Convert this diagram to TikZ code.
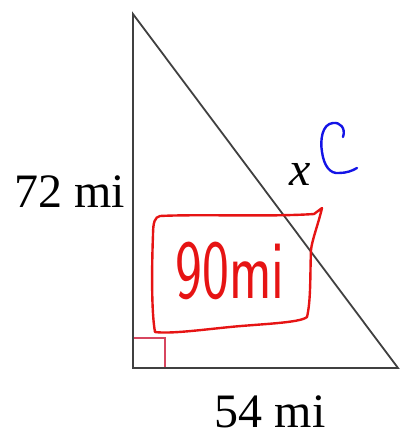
\documentclass[tikz,border=0pt]{standalone}
\usepackage{fontspec}
\setmainfont{Liberation Serif}
\newfontfamily\handfont{Latin Modern Sans}
\usetikzlibrary{calc}
\definecolor{inkred}{RGB}{230,20,20}
\definecolor{inkblue}{RGB}{20,20,230}
\definecolor{markred}{RGB}{215,70,95}
\tikzset{
	side/.style={line width=1.8pt, color=black!75},
	lbl/.style={font=\fontsize{48}{48}\selectfont, inner sep=0pt},
	pen/.style={line width=2.4pt, line cap=round, line join=round}
}

\begin{document}
\begin{tikzpicture}[x=1pt, y=-1pt]
			%%%%% START %%%%%
			\useasboundingbox (0, 0) rectangle (401, 437);
			
			\coordinate (top) at (133, 14);
			\coordinate (corner) at (133, 368);
			\coordinate (right) at (398, 368);
			
			\draw[line width=1.3pt, color=markred] (133, 338) -- (165, 338) -- (165, 368);
			\draw[side] (top) -- (corner) -- (right) -- cycle;
			
			\node[lbl, anchor=base east] (legA) at (125, 207) {72 mi};
			\node[lbl, anchor=base] (legB) at (270, 427) {54 mi};
			\node[lbl, anchor=base] (hyp) at (300, 185) {\textit{x}};
			
			% blue C
			\draw[pen, color=inkblue] (343, 137) .. controls (346, 128) and (340, 122) .. (333, 123)
				.. controls (322, 124) and (320, 140) .. (322, 152)
				.. controls (324, 166) and (330, 174) .. (339, 173)
				.. controls (346, 173) and (352, 171) .. (357, 168);
			
			% red box
			\draw[pen, color=inkred] (160, 216) .. controls (200, 214) and (270, 217) .. (314, 214)
				-- (322, 208)
				.. controls (318, 225) and (312, 240) .. (311, 250)
				.. controls (310, 275) and (311, 300) .. (307, 317)
				.. controls (300, 323) and (260, 324) .. (230, 327)
				.. controls (200, 330) and (170, 334) .. (155, 332)
				.. controls (151, 310) and (152, 260) .. (153, 235)
				.. controls (153, 222) and (155, 217) .. (160, 216);
			\node[inner sep=0pt, color=inkred, xscale=0.68,
				font=\handfont\fontsize{84}{84}\selectfont] (ans) at (230, 271) {90mi};
			
			%%%%% END %%%%%
		\end{tikzpicture}
\end{document}
